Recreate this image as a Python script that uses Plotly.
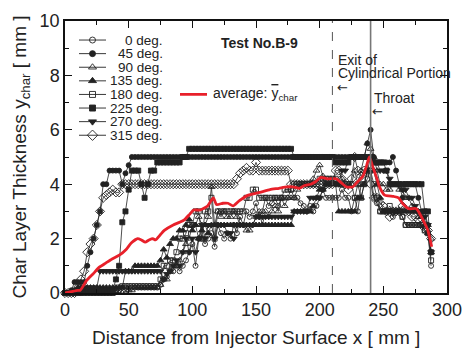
import plotly.graph_objects as go

# ---------------- data ----------------
distance_mm = [
    0, 2.5, 5, 7.5, 10, 12.5, 15, 17.5, 20, 22.5,
    25, 27.5, 30, 32.5, 35, 37.5, 40, 42.5, 45, 47.5,
    50, 52.5, 55, 57.5, 60, 62.5, 65, 67.5, 70, 72.5,
    75, 77.5, 80, 82.5, 85, 87.5, 90, 92.5, 95, 97.5,
    100, 102.5, 105, 107.5, 110, 112.5, 115, 117.5, 120, 122.5,
    125, 127.5, 130, 132.5, 135, 137.5, 140, 142.5, 145, 147.5,
    150, 152.5, 155, 157.5, 160, 162.5, 165, 167.5, 170, 172.5,
    175, 177.5, 180, 182.5, 185, 187.5, 190, 192.5, 195, 197.5,
    200, 202.5, 205, 207.5, 210, 212.5, 215, 217.5, 220, 222.5,
    225, 227.5, 230, 232.5, 235, 237.5, 240, 242.5, 245, 247.5,
    250, 252.5, 255, 257.5, 260, 262.5, 265, 267.5, 270, 272.5,
    275, 277.5, 280, 282.5, 285, 287.5,
]

y_0deg = [
    0, 0, 0, 0, 0, 0, 0.1, 0.1, 0.1, 0.1,
    0.1, 0.1, 0.1, 0.1, 0.1, 0.1, 0.1, 0.1, 0.2, 0.2,
    0.2, 0.2, 0.2, 0.2, 0.2, 0.2, 0.2, 0.2, 0.2, 0.2,
    0.3, 0.5, 0.6, 0.8, 0.8, 1.0, 0.8, 1.0, 1.2, 1.5,
    1.8, 1.0, 2.0, 2.0, 1.8, 2.0, 2.2, 1.7, 2.5, 2.2,
    2.0, 2.2, 2.0, 2.5, 2.2, 2.8, 2.5, 3.0, 2.8, 3.0,
    3.3, 2.8, 3.0, 3.5, 3.2, 3.3, 3.5, 3.2, 3.5, 3.5,
    3.5, 3.8, 3.5, 3.5, 3.3, 3.2, 3.0, 3.2, 3.0, 3.2,
    3.5, 3.8, 3.5, 3.5, 3.5, 3.5, 3.5, 3.8, 3.5, 3.5,
    3.0, 3.5, 3.0, 4.0, 4.0, 4.2, 4.5, 3.5, 3.3, 3.0,
    3.0, 3.0, 3.0, 2.8, 3.0, 3.0, 2.8, 2.5, 2.5, 2.5,
    2.5, 2.5, 2.5, 2.3, 2.2, 1.0,
]

y_45deg = [
    0, 0, 0.1, 0.4, 0.4, 0.4, 0.4, 1.0, 1.5, 2.0,
    2.5, 3.0, 4.0, 4.0, 4.5, 4.5, 4.5, 4.5, 4.0, 4.4,
    4.7, 5.0, 5.0, 5.0, 5.0, 5.0, 5.0, 5.0, 5.0, 5.0,
    5.0, 5.0, 5.0, 5.0, 5.0, 5.0, 5.0, 5.0, 5.0, 5.0,
    5.0, 5.0, 5.0, 5.0, 5.0, 5.0, 5.0, 5.0, 5.0, 5.0,
    5.0, 5.0, 5.0, 5.0, 5.0, 5.0, 5.0, 5.0, 5.0, 5.0,
    5.0, 5.0, 5.0, 5.0, 5.0, 5.0, 5.0, 5.0, 5.0, 5.0,
    5.0, 5.0, 5.0, 5.0, 5.0, 5.0, 5.0, 5.0, 5.0, 5.0,
    5.0, 5.0, 5.0, 5.0, 5.0, 5.0, 5.0, 5.0, 5.0, 5.0,
    5.0, 5.0, 5.0, 5.0, 5.0, 5.5, 6.0, 5.0, 4.8, 4.8,
    4.8, 4.8, 4.8, 5.0, 4.5, 4.0, 3.5, 4.0, 4.0, 4.0,
    4.0, 3.5, 3.0, 3.0, 2.5, 1.5,
]

y_90deg = [
    0, 0, 0, 0, 0, 0, 0, 0, 0, 0,
    0, 0, 0, 0, 0, 0, 0, 0, 0, 0,
    0.1, 0.1, 0.2, 0.2, 0.2, 0.2, 0.2, 0.2, 0.2, 0.2,
    0.3, 0.5, 0.5, 0.8, 1.0, 1.0, 1.2, 1.5, 1.8, 2.0,
    2.5, 2.5, 2.8, 2.5, 2.5, 2.8, 3.9, 2.5, 3.0, 2.8,
    3.0, 2.8, 2.8, 3.0, 2.8, 2.5, 2.5, 2.3, 2.3, 2.5,
    2.8, 3.0, 2.5, 3.0, 2.8, 3.0, 3.2, 3.0, 3.5, 3.2,
    3.5, 3.5, 3.5, 3.8, 4.0, 4.0, 4.0, 4.0, 4.2, 4.5,
    4.7, 4.3, 4.0, 4.0, 4.0, 4.0, 4.0, 4.2, 4.0, 4.0,
    4.0, 4.5, 4.0, 4.5, 5.0, 5.5, 5.3, 5.0, 4.5, 4.0,
    4.0, 3.8, 3.8, 4.0, 4.0, 3.8, 3.8, 3.5, 3.5, 3.2,
    3.0, 2.8, 2.8, 2.5, 2.5, 2.0,
]

y_135deg = [
    0, 0, 0, 0.1, 0.2, 0.2, 0.2, 0.2, 0.2, 0.2,
    0.2, 0.2, 0.2, 0.2, 0.2, 0.2, 0.2, 0.2, 0.2, 0.8,
    0.8, 0.8, 1.0, 1.0, 1.0, 1.0, 1.0, 1.0, 1.0, 1.0,
    1.2, 1.6, 1.3, 1.8, 2.0, 2.0, 2.3, 2.3, 2.5, 2.7,
    2.3, 2.5, 2.0, 2.3, 2.5, 2.2, 2.5, 2.5, 2.5, 2.5,
    2.5, 2.5, 2.5, 2.5, 2.5, 2.5, 2.5, 2.5, 2.5, 2.5,
    2.5, 2.5, 2.5, 2.5, 2.5, 2.5, 2.5, 2.5, 2.5, 2.5,
    2.5, 2.5, 3.0, 3.0, 3.0, 3.0, 3.0, 3.0, 3.2, 3.5,
    3.8, 3.8, 4.0, 4.0, 4.0, 4.0, 3.0, 3.0, 3.0, 3.0,
    3.0, 3.0, 3.5, 3.5, 4.0, 4.5, 5.0, 4.5, 4.0, 3.5,
    3.0, 3.0, 3.0, 3.0, 3.0, 3.0, 3.0, 3.0, 3.0, 3.0,
    3.0, 3.0, 2.8, 2.5, 2.2, 1.5,
]

y_180deg = [
    0, 0, 0, 0, 0, 0, 0, 0, 0, 0,
    0, 0, 0, 0, 0, 0, 0.1, 0.2, 0.25, 0.25,
    0.25, 0.25, 0.25, 0.25, 0.25, 0.25, 0.25, 0.25, 0.25, 0.25,
    0.5, 1.0, 1.0, 1.2, 1.2, 1.5, 2.0, 2.0, 2.2, 2.5,
    2.5, 3.0, 3.0, 2.0, 3.0, 3.0, 3.5, 2.0, 3.0, 3.0,
    3.0, 3.0, 3.0, 3.0, 3.0, 3.0, 3.0, 3.5, 3.5, 3.8,
    3.8, 3.5, 3.5, 3.5, 3.5, 3.5, 3.5, 3.5, 3.5, 3.8,
    3.8, 3.8, 4.0, 4.0, 4.0, 4.0, 4.0, 4.0, 4.0, 4.0,
    4.2, 4.2, 4.2, 4.2, 4.2, 4.2, 4.0, 4.0, 4.0, 4.0,
    4.0, 3.5, 4.0, 3.5, 4.0, 4.5, 4.5, 4.0, 3.5, 3.0,
    3.0, 3.0, 3.2, 3.0, 3.0, 3.0, 2.8, 2.5, 2.5, 2.5,
    2.5, 2.5, 2.5, 2.3, 2.2, 1.2,
]

y_225deg = [
    0, 0, 0, 0, 0, 0.1, 0.1, 0.1, 0.1, 0.1,
    0.1, 0.1, 0.1, 0.1, 0.1, 0.1, 0.5, 1.0, 2.6, 3.0,
    3.8, 4.5, 4.5, 4.5, 4.0, 3.5, 4.0, 4.5, 4.5, 4.8,
    4.8, 4.8, 4.8, 4.8, 4.8, 4.8, 4.8, 5.0, 5.0, 5.3,
    5.3, 5.3, 5.3, 5.3, 5.3, 5.3, 5.3, 5.3, 5.3, 5.3,
    5.3, 5.3, 5.3, 5.3, 5.3, 5.3, 5.3, 5.3, 5.3, 5.3,
    5.3, 5.3, 5.3, 5.3, 5.3, 5.3, 5.3, 5.3, 5.3, 5.3,
    5.3, 5.3, 5.0, 5.0, 5.0, 5.0, 5.0, 5.0, 5.0, 5.0,
    5.0, 5.0, 5.0, 5.0, 5.0, 4.8, 4.8, 4.8, 4.8, 4.8,
    5.0, 5.0, 5.0, 5.0, 5.0, 5.0, 5.0, 4.8, 4.8, 4.8,
    4.8, 4.5, 4.0, 4.0, 4.0, 4.0, 4.0, 4.0, 4.0, 4.0,
    4.0, 4.0, 4.0, 3.0, 3.0, 1.5,
]

y_270deg = [
    0, 0, 0, 0, 0.1, 0.2, 0.2, 0.2, 0.2, 0.2,
    0.2, 0.8, 0.8, 0.8, 0.8, 0.8, 0.8, 0.8, 0.8, 0.8,
    0.8, 0.8, 0.8, 0.8, 0.8, 0.8, 0.8, 0.8, 0.8, 0.8,
    0.8, 0.5, 0.7, 0.8, 1.0, 1.2, 1.0, 1.5, 2.0, 1.5,
    2.0, 1.5, 2.0, 2.5, 2.0, 2.5, 2.5, 2.0, 2.5, 2.5,
    2.5, 2.2, 2.2, 2.0, 2.5, 2.5, 2.5, 2.5, 2.5, 2.5,
    2.8, 2.8, 2.8, 2.8, 2.8, 2.8, 2.8, 2.8, 2.8, 2.8,
    2.8, 2.8, 3.0, 3.0, 3.0, 3.0, 3.0, 3.5, 3.5, 3.5,
    3.5, 3.8, 4.0, 4.0, 4.2, 4.0, 4.0, 4.5, 4.5, 5.0,
    5.0, 5.0, 5.0, 5.0, 5.0, 5.0, 5.0, 4.8, 4.8, 4.5,
    4.5, 4.5, 4.2, 4.0, 4.0, 4.0, 3.8, 3.8, 3.5, 3.5,
    3.2, 3.0, 3.0, 2.8, 2.5, 1.5,
]

y_315deg = [
    0, 0, 0, 0, 0.2, 0.5, 0.8, 1.5, 1.8, 2.0,
    2.5, 3.0, 3.5, 3.6, 3.7, 3.8, 3.7, 3.7, 4.0, 4.0,
    4.0, 4.0, 4.0, 4.0, 4.0, 4.0, 4.0, 4.0, 4.0, 4.0,
    4.0, 4.0, 4.0, 4.0, 4.0, 4.0, 4.0, 4.0, 4.0, 4.0,
    4.0, 4.0, 4.0, 4.0, 4.0, 4.0, 4.0, 4.0, 4.0, 4.0,
    4.0, 4.0, 4.0, 4.0, 4.2, 4.4, 4.5, 4.6, 4.5, 4.5,
    4.8, 4.5, 4.5, 4.5, 4.5, 4.5, 4.5, 4.5, 4.5, 4.5,
    4.5, 4.0, 4.0, 4.0, 4.0, 4.0, 4.0, 4.0, 4.0, 4.0,
    4.0, 4.0, 4.0, 4.0, 4.0, 4.5, 4.5, 4.2, 4.0, 3.8,
    4.2, 5.0, 4.5, 4.3, 4.5, 4.5, 4.0, 3.5, 3.5, 3.3,
    3.2, 3.0, 2.8, 3.0, 3.0, 3.0, 3.2, 3.0, 3.0, 2.8,
    2.8, 2.7, 2.5, 2.5, 2.3, 2.0,
]

avg_x = [0, 5, 10, 12, 17, 22, 27, 32, 37, 43, 48, 52, 57, 60, 63, 66, 69, 71,
         75, 78, 85, 90, 94, 98, 101, 106, 112, 116.5, 119, 124, 128, 132, 137,
         144, 153, 161, 168, 174, 179, 184, 188, 193, 197, 201, 206, 213, 217,
         221, 226, 230, 234, 237, 239, 242, 245, 247, 251, 258, 262, 265, 270,
         276, 281, 285, 288]
avg_y = [0, 0.05, 0.1, 0.1, 0.46, 0.7, 0.95, 1.1, 1.25, 1.4, 1.6, 1.84, 2.0, 1.95,
         1.87, 1.95, 2.0, 1.95, 2.15, 2.3, 2.5, 2.6, 2.7, 2.9, 3.05, 3.05, 3.2,
         3.5, 3.25, 3.3, 3.3, 3.2, 3.4, 3.6, 3.7, 3.8, 3.85, 3.9, 3.9, 3.85,
         3.95, 4.0, 4.1, 4.25, 4.2, 4.2, 4.05, 3.9, 3.9, 4.1, 4.3, 4.7, 5.0,
         4.6, 4.2, 3.9, 3.6, 3.55, 3.5, 3.3, 3.1, 3.1, 2.7, 2.3, 1.7]

series_labels = ["0 deg.", "45 deg.", "90 deg.", "135 deg.",
                 "180 deg.", "225 deg.", "270 deg.", "315 deg."]
series_values = [y_0deg, y_45deg, y_90deg, y_135deg,
                 y_180deg, y_225deg, y_270deg, y_315deg]

exit_x = 210      # exit of cylindrical portion
throat_x = 240    # throat position

x_ticks = [0, 50, 100, 150, 200, 250, 300]
y_ticks = [0, 2, 4, 6, 8, 10]

# ---------------- styles ----------------
INK = "#222222"
RED = "#e8202a"
FONT = "Liberation Sans, Arial, sans-serif"
styles = [
    dict(symbol="circle-open", size=5),
    dict(symbol="circle", size=5),
    dict(symbol="triangle-up-open", size=6),
    dict(symbol="triangle-up", size=6),
    dict(symbol="square-open", size=5),
    dict(symbol="square", size=5),
    dict(symbol="triangle-down", size=6),
    dict(symbol="diamond-open", size=7),
]

fig = go.Figure()

for lab, vals, st in zip(series_labels, series_values, styles):
    fig.add_trace(go.Scatter(
        x=distance_mm, y=vals, mode="lines+markers", name=lab,
        line=dict(color=INK, width=0.8),
        marker=dict(symbol=st["symbol"], size=st["size"], color=INK,
                    line=dict(color=INK, width=0.9)),
        cliponaxis=False, showlegend=False,
    ))

fig.add_trace(go.Scatter(
    x=avg_x, y=avg_y, mode="lines", name="average",
    line=dict(color=RED, width=2.8, shape="spline", smoothing=0.5),
    cliponaxis=False, showlegend=False,
))

# reference lines
fig.add_vline(x=exit_x, line=dict(color="#555555", width=1, dash="dash"))
fig.add_vline(x=throat_x, line=dict(color="#777777", width=1.6))

# ---------------- custom legend on an auxiliary axis ----------------
LEG_LINE_X = [4, 17.5, 31]
LEG_MARK_X = [17.5]
LEG_TEXT_RIGHT = 90
AVG_LINE_X = [105, 132]
AVG_TEXT_LEFT = 136

for k, (lab, st) in enumerate(zip(series_labels, styles)):
    fig.add_trace(go.Scatter(
        x=LEG_LINE_X, y=[k] * 3, xaxis="x2", yaxis="y2", mode="lines",
        line=dict(color=INK, width=0.9), showlegend=False, hoverinfo="skip"))
    fig.add_trace(go.Scatter(
        x=LEG_MARK_X, y=[k], xaxis="x2", yaxis="y2", mode="markers",
        marker=dict(symbol=st["symbol"], size=st["size"] + 1, color=INK,
                    line=dict(color=INK, width=0.9)),
        showlegend=False, hoverinfo="skip", cliponaxis=False))
    fig.add_annotation(x=LEG_TEXT_RIGHT, y=k, xref="x2", yref="y2",
                       text=lab, showarrow=False, xanchor="right",
                       font=dict(family=FONT, size=13.5, color=INK))

fig.add_trace(go.Scatter(
    x=AVG_LINE_X, y=[4, 4], xaxis="x2", yaxis="y2", mode="lines",
    line=dict(color=RED, width=2.8), showlegend=False, hoverinfo="skip"))
fig.add_annotation(x=AVG_TEXT_LEFT, y=4, xref="x2", yref="y2",
                   text='average: <span style="text-decoration:overline">y</span><sub>char</sub>',
                   showarrow=False, xanchor="left",
                   font=dict(family=FONT, size=14, color=INK))

# ---------------- text annotations ----------------
fig.add_annotation(x=153, y=9.2, text="<b>Test No.B-9</b>", showarrow=False,
                   font=dict(family=FONT, size=14, color=INK))
fig.add_annotation(x=212.5, y=8.55, text="Exit of", showarrow=False,
                   xanchor="left", font=dict(family=FONT, size=14, color=INK))
fig.add_annotation(x=212.5, y=8.08, text="Cylindrical Portion", showarrow=False,
                   xanchor="left", font=dict(family=FONT, size=14, color=INK))
fig.add_annotation(x=218, y=7.57, text="←", showarrow=False,
                   font=dict(family="DejaVu Sans", size=13, color=INK))
fig.add_annotation(x=241, y=7.16, text="Throat", showarrow=False,
                   xanchor="left", font=dict(family=FONT, size=14, color=INK))
fig.add_annotation(x=245.4, y=6.68, text="←", showarrow=False,
                   font=dict(family="DejaVu Sans", size=13, color=INK))

# x-axis title placed as a paper annotation
fig.add_annotation(x=0.5, y=-0.162, xref="paper", yref="paper",
                   text="Distance from Injector Surface x [ mm ]", showarrow=False,
                   xanchor="center", yanchor="middle",
                   font=dict(family=FONT, size=19, color=INK))

axis_common = dict(
    showline=True, linecolor="#111111", linewidth=1.5, mirror="ticks",
    ticks="inside", ticklen=7, tickwidth=1.2, tickcolor="#111111",
    showgrid=False, zeroline=False, automargin=False,
    tickfont=dict(family=FONT, size=18, color=INK),
)

fig.update_layout(
    width=463, height=348,
    margin=dict(l=65, r=16, t=21, b=55),
    paper_bgcolor="white", plot_bgcolor="white",
    font=dict(family=FONT, color=INK),
    xaxis=dict(range=[0, 300], tickvals=x_ticks,
               minor=dict(dtick=25, ticklen=4, ticks="inside", tickcolor="#111111"),
               **axis_common),
    yaxis=dict(range=[0, 10], tickvals=y_ticks,
               minor=dict(dtick=1, ticklen=4, ticks="inside", tickcolor="#111111"),
               title=dict(text="Char Layer Thickness y<sub>char</sub> [ mm ]",
                          font=dict(family=FONT, size=19, color=INK), standoff=8),
               **axis_common),
    xaxis2=dict(domain=[0.02618, 0.61518], range=[0, 225], anchor="y2",
                visible=False, fixedrange=True),
    yaxis2=dict(domain=[0.555, 0.955], range=[7.5, -0.5], anchor="x2",
                visible=False, fixedrange=True),
)

fig.write_html("out.html")
